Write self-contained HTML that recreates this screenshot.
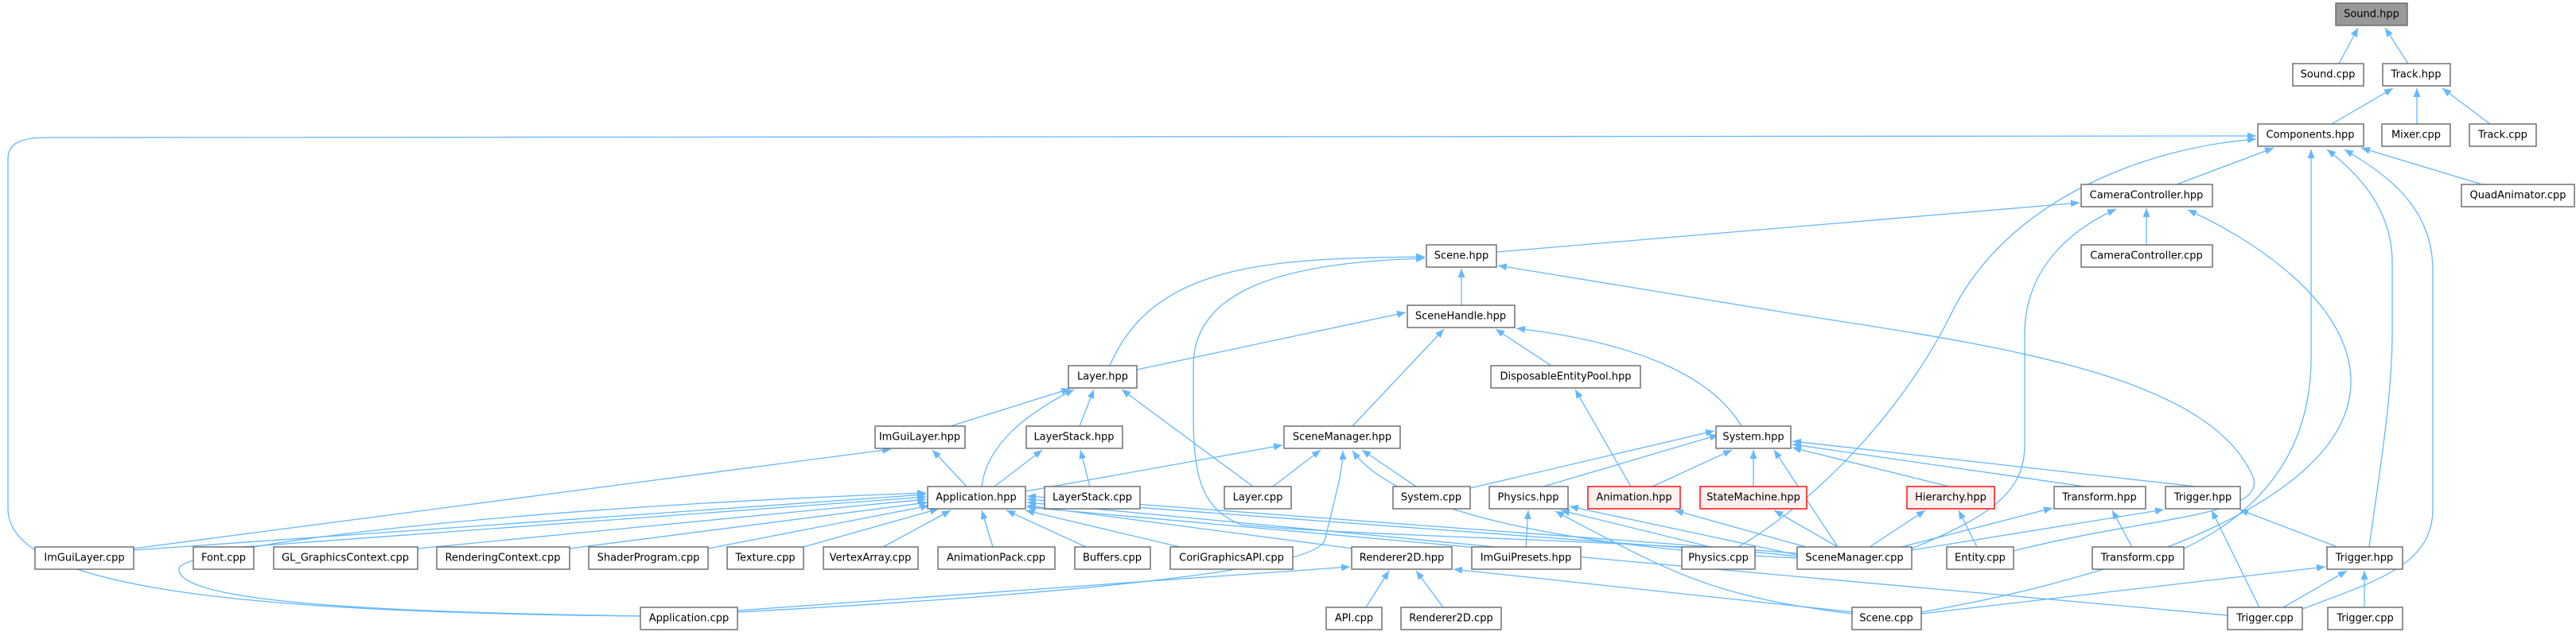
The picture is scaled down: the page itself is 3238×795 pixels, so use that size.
<!DOCTYPE html>
<html><head><meta charset="utf-8"><style>
html,body{margin:0;padding:0;background:#fff;}
svg{display:block;}
text{font-family:"DejaVu Sans","Liberation Sans",sans-serif;font-size:13px;fill:#000;}
.n rect{fill:#fff;stroke:#666;stroke-width:1.4;}
.r rect{fill:#fff0f0;stroke:#f00;stroke-width:1.4;}
.g rect{fill:#999;stroke:#666;stroke-width:1.4;}
.e path{fill:none;stroke:#63b8ff;stroke-width:1.3;marker-end:url(#a);}
</style></head><body>
<svg width="3238" height="795" viewBox="0 0 3238 795" xmlns="http://www.w3.org/2000/svg">
<defs><marker id="a" markerUnits="userSpaceOnUse" markerWidth="11" markerHeight="9" refX="11" refY="4.5" orient="auto"><path d="M0,0 L11,4.5 L0,9 z" fill="#63b8ff"/></marker></defs>
<g class="e">
<path d="M2940,80 L2964,35"/>
<path d="M3027,80 L2998,35"/>
<path d="M2931,156 L3008,111"/>
<path d="M3038,156 L3038,111"/>
<path d="M3130,156 L3070,111"/>
<path d="M2736,232 L2858,186"/>
<path d="M3120,232 L2968,186"/>
<path d="M805,775 C 300,770 10,740 10,640 L 10,200 C 10,178 30,173 60,173 L 2836,171"/>
<path d="M2185,688 C 2300,620 2400,500 2450,400 C 2520,250 2700,185 2836,175"/>
<path d="M2745,690 C 2850,640 2905,560 2905,450 L 2905,188"/>
<path d="M2978,688 C 2990,600 3007,500 3007,420 L 3007,330 C 3007,260 2960,215 2925,188"/>
<path d="M2894,766 C 2990,730 3058,710 3058,640 L 3058,340 C 3058,260 3000,220 2947,188"/>
<path d="M1881,317 L 2614,255"/>
<path d="M2698,308 L2698,262"/>
<path d="M2403,690 C 2500,650 2545,620 2545,560 L 2545,420 C 2545,340 2600,290 2660,263"/>
<path d="M2415,770 C 2700,720 2955,620 2955,480 C 2955,380 2830,300 2750,264"/>
<path d="M1837,384 L1837,338"/>
<path d="M1395,460 C 1450,330 1600,325 1791,323"/>
<path d="M2259,700 C 2100,680 1700,675 1560,660 C 1510,640 1500,600 1500,520 L1500,460 C 1500,370 1600,330 1791,325"/>
<path d="M2531,693 C 2700,650 2850,650 2832,600 C 2780,480 2550,440 2286,400 L 1883,334"/>
<path d="M1429,465 L1767,393"/>
<path d="M1700,536 L1815,414"/>
<path d="M1950,460 L1880,414"/>
<path d="M2189,536 C 2150,470 2050,430 1906,413"/>
<path d="M1195,536 L1345,489"/>
<path d="M1234,612 C 1240,560 1290,520 1350,490"/>
<path d="M1357,536 L1375,490"/>
<path d="M1575,612 L1410,490"/>
<path d="M1215,612 L1172,566"/>
<path d="M168,690 L 1120,565"/>
<path d="M1250,612 L1310,566"/>
<path d="M1370,612 L1358,566"/>
<path d="M1289,618 L1612,560"/>
<path d="M1600,612 L1660,566"/>
<path d="M1780,612 L1712,566"/>
<path d="M927,770 C 1300,750 1650,720 1665,680 C 1680,620 1688,590 1688,567"/>
<path d="M2259,702 C 2000,690 1760,650 1700,567"/>
<path d="M2050,612 L1980,490"/>
<path d="M1848,614 L2155,542"/>
<path d="M1940,612 L2160,547"/>
<path d="M2077,612 L2177,566"/>
<path d="M2204,612 L2204,566"/>
<path d="M2450,612 L2253,563"/>
<path d="M2620,612 L2253,559"/>
<path d="M2760,612 L2253,555"/>
<path d="M2310,688 L2230,566"/>
<path d="M168,692 L1164,622"/>
<path d="M305,688 L1164,625"/>
<path d="M525,690 L1164,628"/>
<path d="M716,690 L1166,632"/>
<path d="M890,690 L1168,636"/>
<path d="M1010,688 L1180,640"/>
<path d="M1110,688 L1195,642"/>
<path d="M1248,688 L1234,642"/>
<path d="M1365,688 L1265,642"/>
<path d="M1483,688 L1289,642"/>
<path d="M1700,690 L1291,636"/>
<path d="M1880,688 L1291,632"/>
<path d="M2130,690 L1291,628"/>
<path d="M2259,696 L1291,624"/>
<path d="M2800,774 L1291,638"/>
<path d="M805,775 C 500,770 220,760 225,715 C 230,690 600,640 1164,620"/>
<path d="M1918,688 L1921,642"/>
<path d="M2150,688 L1962,642"/>
<path d="M2259,698 L1973,637"/>
<path d="M2328,772 C 2150,750 2100,720 1955,643"/>
<path d="M2270,688 L2105,642"/>
<path d="M2310,688 L2230,642"/>
<path d="M2350,688 L2420,642"/>
<path d="M2485,688 L2462,642"/>
<path d="M2390,688 L2580,639"/>
<path d="M2680,688 L2655,642"/>
<path d="M2403,692 L2720,641"/>
<path d="M2840,764 L2780,642"/>
<path d="M2938,688 L2815,641"/>
<path d="M927,768 L1697,713"/>
<path d="M1717,764 L1746,718"/>
<path d="M1814,764 L1780,718"/>
<path d="M2330,770 L1827,716"/>
<path d="M2415,772 L2923,713"/>
<path d="M2870,764 L2950,718"/>
<path d="M2972,764 L2972,718"/>
</g>
<g text-anchor="middle" dominant-baseline="central">
<g class="g"><rect x="2936" y="4" width="90" height="28"/><text x="2981" y="18">Sound.hpp</text></g>
<g class="n"><rect x="2882" y="80" width="89" height="28"/><text x="2926" y="94">Sound.cpp</text></g>
<g class="n"><rect x="2995" y="80" width="85" height="28"/><text x="3037" y="94">Track.hpp</text></g>
<g class="n"><rect x="2838" y="156" width="133" height="28"/><text x="2904" y="170">Components.hpp</text></g>
<g class="n"><rect x="2994" y="156" width="86" height="28"/><text x="3037" y="170">Mixer.cpp</text></g>
<g class="n"><rect x="3104" y="156" width="84" height="28"/><text x="3146" y="170">Track.cpp</text></g>
<g class="n"><rect x="2616" y="232" width="165" height="28"/><text x="2698" y="246">CameraController.hpp</text></g>
<g class="n"><rect x="3094" y="232" width="142" height="28"/><text x="3165" y="246">QuadAnimator.cpp</text></g>
<g class="n"><rect x="1793" y="308" width="88" height="28"/><text x="1837" y="322">Scene.hpp</text></g>
<g class="n"><rect x="2616" y="308" width="165" height="28"/><text x="2698" y="322">CameraController.cpp</text></g>
<g class="n"><rect x="1769" y="384" width="135" height="28"/><text x="1836" y="398">SceneHandle.hpp</text></g>
<g class="n"><rect x="1343" y="460" width="86" height="28"/><text x="1386" y="474">Layer.hpp</text></g>
<g class="n"><rect x="1874" y="460" width="188" height="28"/><text x="1968" y="474">DisposableEntityPool.hpp</text></g>
<g class="n"><rect x="1100" y="536" width="113" height="28"/><text x="1156" y="550">ImGuiLayer.hpp</text></g>
<g class="n"><rect x="1290" y="536" width="121" height="28"/><text x="1350" y="550">LayerStack.hpp</text></g>
<g class="n"><rect x="1614" y="536" width="146" height="28"/><text x="1687" y="550">SceneManager.hpp</text></g>
<g class="n"><rect x="2157" y="536" width="94" height="28"/><text x="2204" y="550">System.hpp</text></g>
<g class="n"><rect x="1166" y="612" width="123" height="28"/><text x="1227" y="626">Application.hpp</text></g>
<g class="n"><rect x="1313" y="612" width="120" height="28"/><text x="1373" y="626">LayerStack.cpp</text></g>
<g class="n"><rect x="1539" y="612" width="84" height="28"/><text x="1581" y="626">Layer.cpp</text></g>
<g class="n"><rect x="1751" y="612" width="97" height="28"/><text x="1799" y="626">System.cpp</text></g>
<g class="n"><rect x="1872" y="612" width="99" height="28"/><text x="1921" y="626">Physics.hpp</text></g>
<g class="r"><rect x="1996" y="612" width="116" height="28"/><text x="2054" y="626">Animation.hpp</text></g>
<g class="r"><rect x="2137" y="612" width="134" height="28"/><text x="2204" y="626">StateMachine.hpp</text></g>
<g class="r"><rect x="2397" y="612" width="110" height="28"/><text x="2452" y="626">Hierarchy.hpp</text></g>
<g class="n"><rect x="2582" y="612" width="115" height="28"/><text x="2639" y="626">Transform.hpp</text></g>
<g class="n"><rect x="2722" y="612" width="94" height="28"/><text x="2769" y="626">Trigger.hpp</text></g>
<g class="n"><rect x="44" y="688" width="124" height="28"/><text x="106" y="702">ImGuiLayer.cpp</text></g>
<g class="n"><rect x="243" y="688" width="76" height="28"/><text x="281" y="702">Font.cpp</text></g>
<g class="n"><rect x="344" y="688" width="181" height="28"/><text x="434" y="702">GL_GraphicsContext.cpp</text></g>
<g class="n"><rect x="549" y="688" width="167" height="28"/><text x="632" y="702">RenderingContext.cpp</text></g>
<g class="n"><rect x="740" y="688" width="150" height="28"/><text x="815" y="702">ShaderProgram.cpp</text></g>
<g class="n"><rect x="914" y="688" width="96" height="28"/><text x="962" y="702">Texture.cpp</text></g>
<g class="n"><rect x="1035" y="688" width="119" height="28"/><text x="1094" y="702">VertexArray.cpp</text></g>
<g class="n"><rect x="1179" y="688" width="147" height="28"/><text x="1252" y="702">AnimationPack.cpp</text></g>
<g class="n"><rect x="1351" y="688" width="95" height="28"/><text x="1398" y="702">Buffers.cpp</text></g>
<g class="n"><rect x="1471" y="688" width="154" height="28"/><text x="1548" y="702">CoriGraphicsAPI.cpp</text></g>
<g class="n"><rect x="1699" y="688" width="126" height="28"/><text x="1762" y="702">Renderer2D.hpp</text></g>
<g class="n"><rect x="1850" y="688" width="137" height="28"/><text x="1918" y="702">ImGuiPresets.hpp</text></g>
<g class="n"><rect x="2114" y="688" width="92" height="28"/><text x="2160" y="702">Physics.cpp</text></g>
<g class="n"><rect x="2259" y="688" width="144" height="28"/><text x="2331" y="702">SceneManager.cpp</text></g>
<g class="n"><rect x="2447" y="688" width="84" height="28"/><text x="2489" y="702">Entity.cpp</text></g>
<g class="n"><rect x="2630" y="688" width="115" height="28"/><text x="2687" y="702">Transform.cpp</text></g>
<g class="n"><rect x="2925" y="688" width="95" height="28"/><text x="2972" y="702">Trigger.hpp</text></g>
<g class="n"><rect x="805" y="764" width="122" height="28"/><text x="866" y="778">Application.cpp</text></g>
<g class="n"><rect x="1667" y="764" width="70" height="28"/><text x="1702" y="778">API.cpp</text></g>
<g class="n"><rect x="1761" y="764" width="126" height="28"/><text x="1824" y="778">Renderer2D.cpp</text></g>
<g class="n"><rect x="2328" y="764" width="87" height="28"/><text x="2371" y="778">Scene.cpp</text></g>
<g class="n"><rect x="2800" y="764" width="94" height="28"/><text x="2847" y="778">Trigger.cpp</text></g>
<g class="n"><rect x="2926" y="764" width="94" height="28"/><text x="2973" y="778">Trigger.cpp</text></g>
</g>
</svg>
</body></html>
